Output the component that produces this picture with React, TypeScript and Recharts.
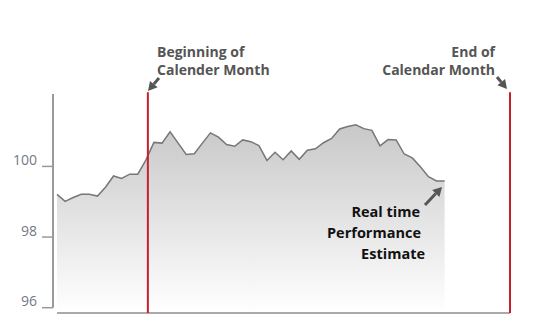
import { AreaChart, Area, XAxis, YAxis, ReferenceLine } from 'recharts';

// daily performance index, one point per trading day
const days = [
  0, 1, 2, 3, 4, 5, 6, 7, 8, 9, 10, 11, 12, 13, 14, 15, 16,
  17, 18, 19, 20, 21, 22, 23, 24, 25, 26, 27, 28, 29, 30, 31, 32,
  33, 34, 35, 36, 37, 38, 39, 40, 41, 42, 43, 44, 45, 46, 47, 48,
];
const performance = [
  99.21, 99.01, 99.12, 99.21, 99.21, 99.16, 99.41, 99.73, 99.66, 99.78, 99.78, 100.18,
  100.68, 100.66, 100.98, 100.66, 100.34, 100.36, 100.66, 100.95, 100.83, 100.62, 100.57,
  100.75, 100.7, 100.59, 100.17, 100.4, 100.19, 100.44, 100.2, 100.46, 100.5, 100.67,
  100.79, 101.06, 101.13, 101.18, 101.07, 101.02, 100.58, 100.76, 100.75, 100.35, 100.24,
  99.99, 99.71, 99.59, 99.59,
];
const yTicks = [96, 98, 100];

const monthStart = 11.25;
const monthEnd = 56.1;
const xMin = -0.5;
const yMin = 95.85;
const yMax = 102.05;
const markerTop = 102.1;

const data = days.map((d, i) => ({ day: d, value: performance[i] }));

const FONT = "'Open Sans', sans-serif";

const YTick = (props: any) => {
  const { x, y, payload } = props;
  return (
    <text x={x - 3} y={y - 7} textAnchor="end" dominantBaseline="central" fill="#737985" fontSize={14} fontFamily={FONT}>
      {payload.value}
    </text>
  );
};

const Arrow = ({ x1, y1, x2, y2 }: { x1: number; y1: number; x2: number; y2: number }) => {
  const a = Math.atan2(y2 - y1, x2 - x1);
  const len = 9;
  const half = 5;
  const bx = x2 - len * Math.cos(a);
  const by = y2 - len * Math.sin(a);
  const px = -Math.sin(a) * half;
  const py = Math.cos(a) * half;
  return (
    <g>
      <line x1={x1} y1={y1} x2={bx} y2={by} stroke="#555" strokeWidth={3} />
      <polygon points={`${x2},${y2} ${bx + px},${by + py} ${bx - px},${by - py}`} fill="#555" />
    </g>
  );
};

// annotation layer drawn over the chart
const Notes = () => (
  <svg width={536} height={335} style={{ position: 'absolute', left: 0, top: 0, pointerEvents: 'none' }}>
    <g fontFamily={FONT} fontWeight={700}>
      <text x={157} y={57} fill="#555" fontSize={14}>Beginning of</text>
      <text x={157} y={75} fill="#555" fontSize={14}>Calender Month</text>
      <Arrow x1={159} y1={78} x2={148} y2={91} />
      <text x={495} y={57} fill="#555" fontSize={14} textAnchor="end">End of</text>
      <text x={495} y={75} fill="#555" fontSize={14} textAnchor="end">Calendar Month</text>
      <Arrow x1={497} y1={77} x2={507} y2={89} />
      <text x={420} y={217} fill="#111" fontSize={14.5} textAnchor="end">Real time</text>
      <text x={421} y={238} fill="#111" fontSize={14.5} textAnchor="end">Performance</text>
      <text x={425} y={259} fill="#111" fontSize={14.5} textAnchor="end">Estimate</text>
      <Arrow x1={425} y1={205} x2={442} y2={187} />
    </g>
  </svg>
);

export default function App() {
  return (
    <div style={{ position: 'absolute', left: 0, top: 0, width: 536, height: 335 }}>
      <AreaChart width={536} height={335} data={data} margin={{ top: 94, right: 26, bottom: 22, left: 0 }}>
        <defs>
          <linearGradient id="fade" x1="0" y1="0" x2="0" y2="1">
            <stop offset="0%" stopColor="#c8c8c8" />
            <stop offset="100%" stopColor="#ffffff" />
          </linearGradient>
        </defs>
        <XAxis type="number" dataKey="day" domain={[xMin, monthEnd]} hide />
        <YAxis
          type="number"
          width={53}
          domain={[yMin, yMax]}
          ticks={yTicks}
          axisLine={false}
          tickLine={{ stroke: '#999', strokeWidth: 1.5 }}
          tickSize={11}
          tick={<YTick />}
          interval={0}
        />
        <Area
          type="linear"
          dataKey="value"
          stroke="#777"
          strokeWidth={1.5}
          fill="url(#fade)"
          fillOpacity={1}
          dot={false}
          activeDot={false}
          isAnimationActive={false}
        />
        <ReferenceLine
          segment={[{ x: xMin, y: 96 }, { x: xMin, y: yMax }]}
          stroke="#9a9a9a"
          strokeWidth={2}
          ifOverflow="visible"
        />
        <ReferenceLine
          segment={[{ x: 0, y: yMin }, { x: monthEnd, y: yMin }]}
          stroke="#aaa"
          strokeWidth={2}
          ifOverflow="visible"
        />
        <ReferenceLine
          segment={[{ x: monthStart, y: yMin }, { x: monthStart, y: markerTop }]}
          stroke="#c8202a"
          strokeWidth={2}
          ifOverflow="visible"
        />
        <ReferenceLine
          segment={[{ x: monthEnd, y: yMin }, { x: monthEnd, y: markerTop }]}
          stroke="#c8202a"
          strokeWidth={2}
          ifOverflow="visible"
        />
      </AreaChart>
      <Notes />
    </div>
  );
}
